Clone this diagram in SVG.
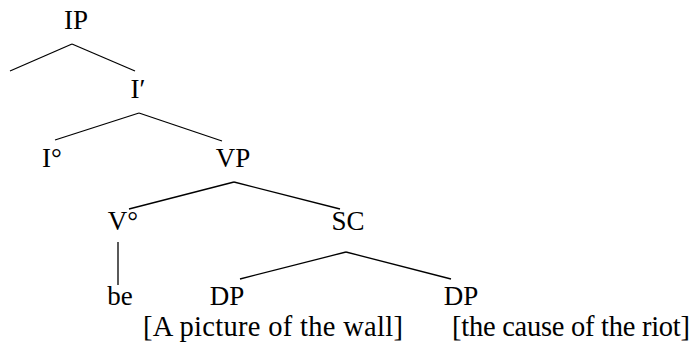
<svg xmlns="http://www.w3.org/2000/svg" width="694" height="347" viewBox="0 0 694 347">
<style>
.lbl{fill:#000;font-size:27px;text-anchor:middle}
.leaf{fill:#000;font-size:28.5px;text-anchor:start}
.edge{stroke:#000;stroke-width:1.3;fill:none}
</style>
<rect width="694" height="347" fill="#fff"/>
<g id="connectors">
<line class="edge" x1="72" y1="44" x2="10" y2="71"/>
<line class="edge" x1="72" y1="44" x2="135" y2="71"/>
<line class="edge" x1="139" y1="113" x2="55" y2="140"/>
<line class="edge" x1="139" y1="113" x2="222" y2="141"/>
<line class="edge" x1="234" y1="182" x2="129" y2="209"/>
<line class="edge" x1="234" y1="182" x2="340" y2="209"/>
<line class="edge" x1="118" y1="242" x2="118" y2="285"/>
<line class="edge" x1="346" y1="252" x2="240" y2="279"/>
<line class="edge" x1="346" y1="252" x2="451" y2="279"/>
</g>
<g font-family="Liberation Serif, Tinos, DejaVu Serif, serif">
<g id="IP"><text class="lbl" x="76" y="29">IP</text></g>
<g id="Ibar"><text class="lbl" x="138" y="98">I′</text></g>
<g id="I0"><text class="lbl" x="52" y="167">I°</text></g>
<g id="VP"><text class="lbl" x="233" y="167">VP</text></g>
<g id="V0"><text class="lbl" x="123" y="230">V°</text></g>
<g id="SC"><text class="lbl" x="348" y="230">SC</text></g>
<g id="be"><text class="lbl" x="120" y="305">be</text></g>
<g id="DP1"><text class="lbl" x="227" y="305">DP</text></g>
<g id="DP2"><text class="lbl" x="461" y="305">DP</text></g>
<g id="leaf1"><text class="leaf" x="143" y="336" textLength="260" lengthAdjust="spacing">[A picture of the wall]</text></g>
<g id="leaf2"><text class="leaf" x="452" y="336" textLength="238" lengthAdjust="spacing">[the cause of the riot]</text></g>
</g>
</svg>
